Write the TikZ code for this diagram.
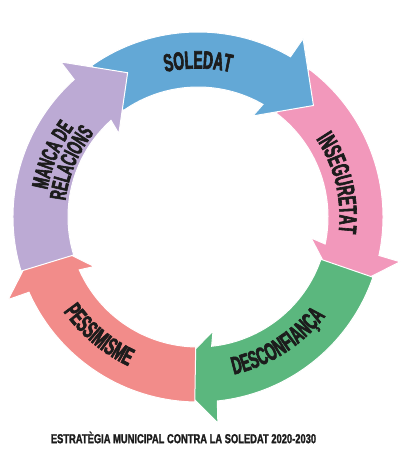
\documentclass[tikz,border=0pt]{standalone}
\usepackage{fontspec}
\usepackage{tikz}
\usetikzlibrary{decorations.text}

\newfontfamily\lblfont[FakeStretch=0.55,FakeBold=2.4]{Liberation Sans}
\newfontfamily\capfont[FakeStretch=0.72,FakeBold=1.6]{Liberation Sans}
\newcommand{\lbl}{\lblfont\bfseries\fontsize{25}{24}\selectfont\color{ink}}
\newcommand{\lblsm}{\lblfont\bfseries\fontsize{23}{22}\selectfont\color{ink}}
\newcommand{\captxt}{\capfont\bfseries\fontsize{13}{12}\selectfont}

\definecolor{soledat}{RGB}{99,168,214}
\definecolor{inseguretat}{RGB}{242,152,187}
\definecolor{desconfianca}{RGB}{91,183,126}
\definecolor{pessimisme}{RGB}{242,140,138}
\definecolor{manca}{RGB}{188,170,212}
\definecolor{ink}{RGB}{28,28,28}

\tikzset{
  ringarrow/.pic={
    \path[pic actions] (125:185) arc[start angle=125,end angle=60,radius=185]
      -- (59.5:207) -- (44:160.5) -- (61.5:115) -- (60:130)
      arc[start angle=60,end angle=125,radius=130] -- cycle;
  },
  arrowedge/.style={draw=white,line width=1pt,line join=miter},
  ringtext/.style={decorate,decoration={text along path,text align=center,text={|\lbl|#1}}},
  ringtextsm/.style={decorate,decoration={text along path,text align=center,text={|\lblsm|#1}}}
}

\begin{document}
\begin{tikzpicture}[x=1pt,y=1pt]
\useasboundingbox (-198,-243) rectangle (210,217);

%Curved Arrows
\pic[fill=soledat,arrowedge] {ringarrow};
\pic[fill=inseguretat,arrowedge,rotate=-72] {ringarrow};
\pic[fill=desconfianca,arrowedge,rotate=-144] {ringarrow};
\pic[fill=pessimisme,arrowedge,rotate=-216] {ringarrow};
\pic[fill=manca,arrowedge,rotate=-288] {ringarrow};
%head of the first arrow over the tail of the second
\begin{scope}
\clip (0,0) -- (75:240) arc[start angle=75,end angle=30,radius=240] -- cycle;
\pic[fill=soledat,arrowedge] {ringarrow};
\end{scope}

% Text along the arrows
\path[ringtext=SOLEDAT] (125:148.5) arc[start angle=125,end angle=55,radius=148.5];
\path[ringtext=INSEGURETAT] (50:141.5) arc[start angle=50,end angle=-23,radius=141.5];
\path[ringtext=DESCONFIANÇA] (-100:161.5) arc[start angle=-100,end angle=-15,radius=161.5];
\path[ringtext=PESSIMISME] (-170:164.5) arc[start angle=-170,end angle=-90,radius=164.5];
\path[ringtextsm=MANCA DE] (195:153) arc[start angle=195,end angle=119,radius=153];
\path[ringtextsm=RELACIONS] (195:133.5) arc[start angle=195,end angle=119,radius=133.5];

% Text Node
\node[text=ink,inner sep=0pt] (caption) at (-14.5,-220.5) {\captxt ESTRATÈGIA MUNICIPAL CONTRA LA SOLEDAT 2020-2030};

\end{tikzpicture}
\end{document}
